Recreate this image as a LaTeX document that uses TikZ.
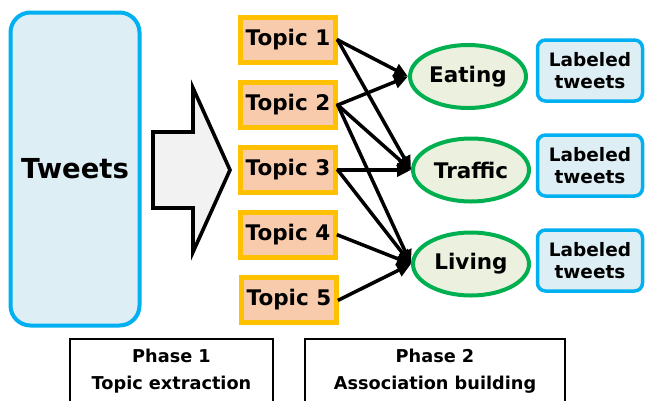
\documentclass[tikz,border=0pt]{standalone}
\usepackage{fontspec}
\setmainfont{DejaVu Sans}
\usetikzlibrary{arrows.meta,shapes.geometric}
\definecolor{tblue}{HTML}{00B0F0}
\definecolor{tbluefill}{HTML}{DEEEF5}
\definecolor{torange}{HTML}{FFC000}
\definecolor{tpeach}{HTML}{F8CBAD}
\definecolor{tgreen}{HTML}{00B050}
\definecolor{tgreenfill}{HTML}{EBF1DE}
\definecolor{tgray}{HTML}{F2F2F2}
\tikzset{
  tweetsbox/.style={draw=tblue, fill=tbluefill, line width=4pt, rounded corners=20pt,
    minimum width=129pt, minimum height=313pt, inner sep=0pt,
    font=\fontsize{27.5}{30}\selectfont\bfseries},
  topicbox/.style={draw=torange, fill=tpeach, line width=4.5pt,
    minimum width=95pt, minimum height=45pt, inner sep=0pt,
    font=\fontsize{21.5}{24}\selectfont\bfseries},
  catnode/.style={ellipse, draw=tgreen, fill=tgreenfill, line width=4pt,
    minimum width=116pt, minimum height=63pt, inner sep=0pt,
    font=\fontsize{21.5}{24}\selectfont\bfseries},
  labbox/.style={draw=tblue, fill=tbluefill, line width=3.5pt, rounded corners=8pt,
    minimum width=105pt, minimum height=61pt, inner sep=0pt, align=center,
    font=\fontsize{18.5}{21.5}\selectfont\bfseries},
  phasebox/.style={draw=black, line width=2pt, inner sep=0pt},
  phasetext/.style={align=center, inner sep=0pt, font=\fontsize{17.7}{27}\selectfont\bfseries},
  link/.style={line width=3.5pt, -{Triangle[length=14pt,width=13pt]}, shorten <=-1pt},
  bigarrow/.style={draw=black, fill=tgray, line width=3.6pt, line join=miter}
}
\begin{document}
\begin{tikzpicture}[x=1pt,y=-1pt]
\useasboundingbox (0,0) rectangle (646,400);
\clip (0,0) rectangle (646,400);
\fill[white] (0,0) rectangle (646,400);

\node[tweetsbox] (tw) at (75,169) {Tweets};

\draw[bigarrow] (153,132) -- (193,132) -- (193,88) -- (230,170) -- (193,252) -- (193,208) -- (153,208) -- cycle;

\node[topicbox] (t1) at (288,40) {Topic 1};
\node[topicbox] (t2) at (288,105) {Topic 2};
\node[topicbox] (t3) at (288,170) {Topic 3};
\node[topicbox] (t4) at (288,235) {Topic 4};
\node[topicbox] (t5) at (289,300) {Topic 5};

\node[catnode] (eat) at (468,76.5) {Eating};
\node[catnode] (tra) at (471,170) {Traffic};
\node[catnode] (liv) at (471,264) {Living};

\node[labbox] (l1) at (590,70.5) {Labeled\\tweets};
\node[labbox] (l2) at (590,165.5) {Labeled\\tweets};
\node[labbox] (l3) at (590,260.5) {Labeled\\tweets};

\draw[link] (t1.east) -- (eat.west);
\draw[link] (t1.east) -- (tra.west);
\draw[link] (t2.east) -- (eat.west);
\draw[link] (t2.east) -- (tra.west);
\draw[link] (t2.east) -- (liv.west);
\draw[link] (t3.east) -- (tra.west);
\draw[link] (t3.east) -- (liv.west);
\draw[link] (t4.east) -- (liv.west);
\draw[link] (t5.east) -- (liv.west);

\node[phasebox, minimum width=203pt, minimum height=90pt, anchor=north] (p1) at (171.5,338) {};
\node[phasetext] (p1t) at (171.5,371) {Phase 1\\Topic extraction};
\node[phasebox, minimum width=260pt, minimum height=90pt, anchor=north] (p2) at (435,338) {};
\node[phasetext] (p2t) at (435,371) {Phase 2\\Association building};
\end{tikzpicture}
\end{document}
